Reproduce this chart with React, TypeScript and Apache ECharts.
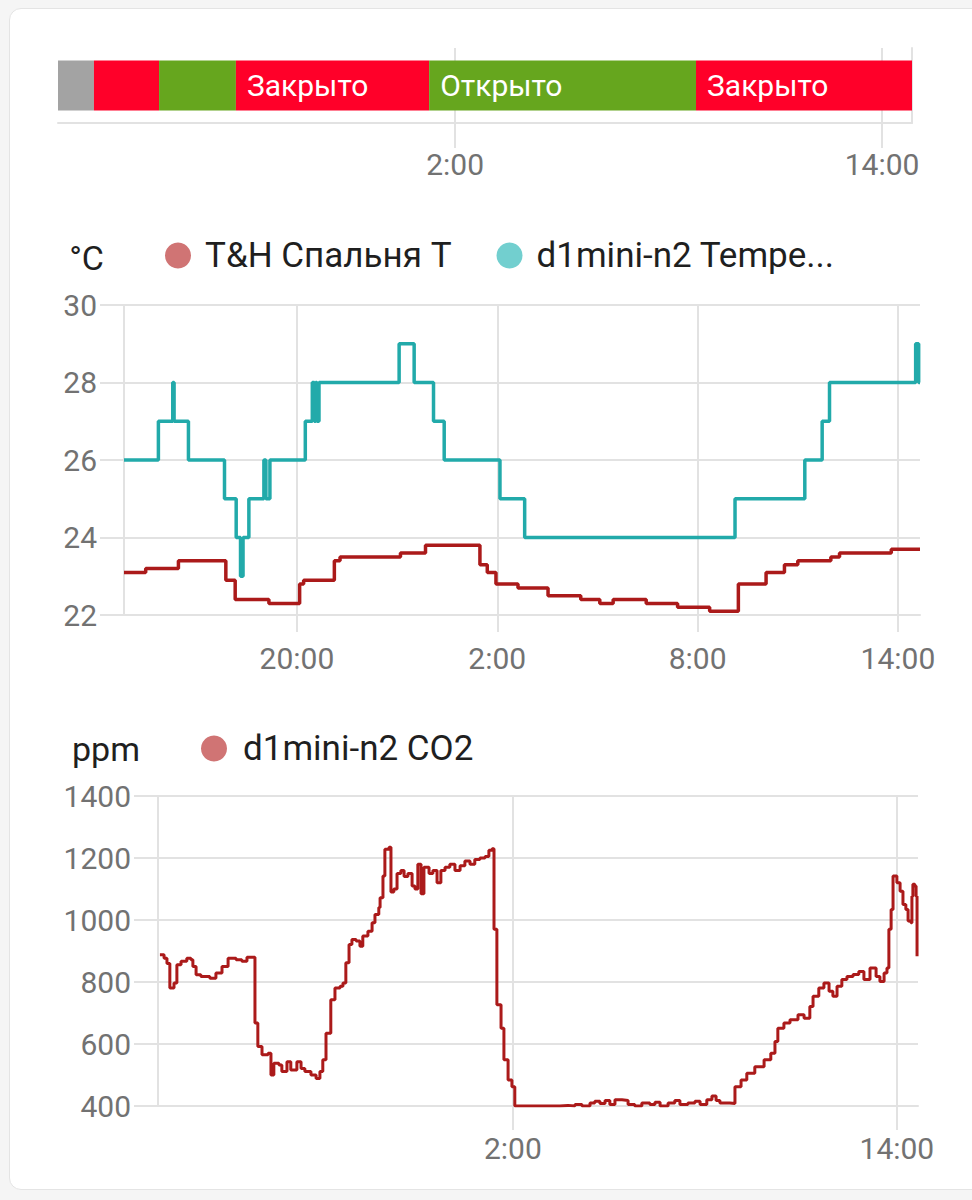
import React, { useEffect, useRef } from "react";
import * as echarts from "echarts";

// ---- Door sensor timeline (hours since midnight of day 1; >24 = next day) ----
const doorStateNames = ["Недоступно", "Закрыто", "Открыто", "Закрыто", "Открыто", "Закрыто"];
const doorStateStarts = [14.84, 15.85, 17.68, 19.84, 25.27, 32.77];
const doorTimelineEnd = 38.84;

// ---- Temperature: T&H Спальня T ----
const bedroomTimes = [
  14.82, 15.47, 16.45, 17.87, 18.15, 19.16, 20.08, 20.2, 21.12, 21.29, 23.1, 23.85,
  25.48, 25.7, 25.96, 26.62, 27.52, 28.5, 29.07, 29.47, 30.46, 31.4, 32.36, 33.22,
  34.05, 34.6, 35.0, 35.99, 36.25, 37.8, 38.66,
];
const bedroomTemps = [
  23.1, 23.2, 23.4, 22.9, 22.4, 22.3, 22.8, 22.9, 23.4, 23.5, 23.6, 23.8,
  23.3, 23.1, 22.8, 22.7, 22.5, 22.4, 22.3, 22.4, 22.3, 22.2, 22.1, 22.8,
  23.1, 23.3, 23.4, 23.5, 23.6, 23.7, 23.7,
];

// ---- Temperature: d1mini-n2 Temperature ----
const d1Times = [
  14.82, 15.85, 16.28, 16.32, 16.75, 17.83, 18.18, 18.31, 18.385, 18.56, 19.01, 19.07,
  19.19, 20.25, 20.46, 20.52, 20.56, 20.6, 20.66, 23.06, 23.51, 24.09, 24.41, 26.08,
  26.82, 33.12, 35.21, 35.73, 35.95, 38.53, 38.62, 38.66,
];
const d1Temps = [
  26, 27, 28, 27, 26, 25, 24, 23, 24, 25, 26, 25,
  26, 27, 28, 27, 28, 27, 28, 29, 28, 27, 26, 25,
  24, 25, 26, 27, 28, 29, 28, 28,
];

// ---- CO2: d1mini-n2 CO2 ----
const co2Times = [
  14.97, 15.1, 15.19, 15.28, 15.41, 15.5, 15.63, 15.81, 15.94, 16.0, 16.1, 16.25,
  16.53, 16.72, 16.91, 17.1, 17.35, 17.53, 17.69, 17.91, 17.94, 18.03, 18.16, 18.35,
  18.44, 18.53, 18.69, 18.78, 18.94, 19.06, 19.25, 19.38, 19.5, 19.69, 19.85, 19.97,
  20.06, 20.16, 20.28, 20.31, 20.44, 20.6, 20.69, 20.78, 20.88, 20.97, 21.1, 21.22,
  21.31, 21.47, 21.6, 21.69, 21.81, 21.85, 21.94, 22.0, 22.13, 22.19, 22.28, 22.38,
  22.5, 22.6, 22.72, 22.85, 22.94, 23.03, 23.13, 23.22, 23.38, 23.5, 23.63, 23.75,
  23.88, 24.03, 24.19, 24.35, 24.5, 24.66, 24.81, 24.97, 25.13, 25.25, 25.35, 25.41,
  25.5, 25.63, 25.72, 25.85, 25.97, 26.06, 27.47, 27.72, 27.94, 28.16, 28.41, 28.56,
  28.72, 28.88, 29.03, 29.19, 29.41, 29.6, 29.81, 30.03, 30.28, 30.44, 30.6, 30.85,
  31.06, 31.22, 31.47, 31.69, 31.85, 32.06, 32.22, 32.35, 32.47, 32.78, 32.94, 33.13,
  33.31, 33.56, 33.85, 34.06, 34.19, 34.28, 34.47, 34.66, 34.91, 35.1, 35.28, 35.38,
  35.56, 35.72, 35.88, 36.0, 36.13, 36.28, 36.44, 36.63, 36.81, 36.97, 37.16, 37.35,
  37.47, 37.6, 37.69, 37.75, 37.82, 37.88, 38.0, 38.1, 38.19, 38.28, 38.35, 38.44,
  38.47, 38.5, 38.56, 38.6, 38.63,
];
const co2Values = [
  888, 877, 860, 781, 797, 856, 867, 877, 872, 850, 823, 818,
  812, 829, 850, 877, 872, 867, 880, 880, 668, 592, 565, 570,
  500, 538, 532, 511, 543, 516, 543, 521, 511, 500, 489, 511,
  549, 635, 635, 743, 781, 786, 797, 862, 921, 937, 932, 915,
  948, 964, 991, 1018, 1040, 1072, 1142, 1228, 1235, 1090, 1100, 1150,
  1160, 1140, 1150, 1110, 1100, 1180, 1085, 1170, 1150, 1160, 1120, 1160,
  1170, 1180, 1160, 1175, 1190, 1180, 1195, 1200, 1205, 1225, 1230, 970,
  727, 651, 549, 484, 462, 400, 402, 400, 405, 400, 410, 415,
  408, 418, 405, 420, 418, 405, 400, 410, 405, 412, 400, 410,
  418, 405, 410, 415, 405, 420, 432, 418, 410, 408, 462, 484,
  506, 527, 549, 570, 608, 651, 668, 678, 694, 683, 721, 754,
  781, 797, 770, 754, 786, 808, 818, 824, 834, 808, 845, 818,
  802, 829, 845, 970, 1034, 1142, 1120, 1093, 1050, 1034, 997, 991,
  1077, 1115, 1110, 1077, 883,
];

// Axis tick positions (hours) for each panel
const timelineTicks = [26, 38];
const tempTicks = [20, 26, 32, 38];
const co2Ticks = [26, 38];

const GRID_COLOR = "#e2e2e2";
const LABEL_COLOR = "#727272";
const TEXT_COLOR = "#1f1f1f";
const FONT = "Roboto";

const stateColors: Record<string, string> = {
  "Недоступно": "#a3a3a3",
  "Закрыто": "#ff0029",
  "Открыто": "#66a61e",
};

const BEDROOM_LINE = "#ab1a1a";
const BEDROOM_ICON = "#d07474";
const D1_LINE = "#22aaaa";
const D1_ICON = "#72cfcf";

const hourLabel = (v: number) => `${Math.round(v) % 24}:00`;

function timeAxis(gridIndex: number, min: number, max: number, ticks: number[], tickLen: number, margin: number) {
  return {
    type: "value",
    gridIndex,
    min,
    max,
    axisLine: { show: true, lineStyle: { color: GRID_COLOR, width: 2 } },
    axisTick: { show: true, customValues: ticks, length: tickLen, lineStyle: { color: GRID_COLOR, width: 2 } },
    axisLabel: {
      customValues: ticks,
      formatter: hourLabel,
      color: LABEL_COLOR,
      fontSize: 30,
      fontFamily: FONT,
      margin,
    },
    splitLine: { show: true, lineStyle: { color: GRID_COLOR, width: 2 } },
  };
}

function valueAxis(gridIndex: number, min: number, max: number, interval: number, name: string, nameRight: number, tickLen: number, margin: number) {
  return {
    type: "value",
    gridIndex,
    min,
    max,
    interval,
    name,
    nameLocation: "end",
    nameGap: 30,
    nameTextStyle: { color: TEXT_COLOR, fontSize: 34, fontFamily: FONT, align: "right", padding: [0, nameRight, 0, 0] },
    axisLine: { show: true, lineStyle: { color: GRID_COLOR, width: 2 } },
    axisTick: { show: true, length: tickLen, lineStyle: { color: GRID_COLOR, width: 2 } },
    axisLabel: { color: LABEL_COLOR, fontSize: 30, fontFamily: FONT, margin, formatter: (v: number) => String(v) },
    splitLine: { show: true, lineStyle: { color: GRID_COLOR, width: 2 } },
  };
}

const LEGEND_SIZE = 35;
const legendFont = `${LEGEND_SIZE}px ${FONT}`;

function buildOption() {
  const doorData = doorStateStarts.map((s, i) => [s, i + 1 < doorStateStarts.length ? doorStateStarts[i + 1] : doorTimelineEnd, i]);
  const pairs = (xs: number[], ys: number[]) => xs.map((x, i) => [x, ys[i]]);

  return {
    animation: false,
    textStyle: { fontFamily: FONT },
    grid: [
      { left: 58, right: 60, top: 48, height: 75 },
      { left: 124, right: 52, top: 305, height: 310 },
      { left: 158, right: 54, top: 796, height: 310 },
    ],
    legend: [
      {
        left: 160,
        top: 233,
        icon: "circle",
        itemWidth: 26,
        itemHeight: 26,
        itemGap: 45,
        textStyle: { color: TEXT_COLOR, fontSize: LEGEND_SIZE, fontFamily: FONT, padding: [0, 0, 0, 9] },
        formatter: (name: string) => echarts.format.truncateText(name, 300, legendFont, "..."),
        data: [
          { name: "T&H Спальня T", itemStyle: { color: BEDROOM_ICON } },
          { name: "d1mini-n2 Temperature", itemStyle: { color: D1_ICON } },
        ],
      },
      {
        left: 196,
        top: 726,
        icon: "circle",
        itemWidth: 26,
        itemHeight: 26,
        textStyle: { color: TEXT_COLOR, fontSize: LEGEND_SIZE, fontFamily: FONT, padding: [0, 0, 0, 11] },
        data: [{ name: "d1mini-n2 CO2", itemStyle: { color: BEDROOM_ICON } }],
      },
    ],
    xAxis: [
      timeAxis(0, 14.84, 38.84, timelineTicks, 25, 26),
      timeAxis(1, 14.82, 38.66, tempTicks, 17, 28),
      timeAxis(2, 14.91, 38.66, co2Ticks, 24, 27),
    ],
    yAxis: [
      {
        type: "category",
        gridIndex: 0,
        data: [""],
        position: "right",
        axisLine: { show: true, lineStyle: { color: GRID_COLOR, width: 2 } },
        axisTick: { show: false },
        axisLabel: { show: false },
        splitLine: { show: false },
      },
      valueAxis(1, 22, 30, 2, "°C", 20, 24, 27),
      valueAxis(2, 400, 1400, 200, "ppm", 18, 24, 27),
    ],
    series: [
      {
        type: "custom",
        name: "door",
        xAxisIndex: 0,
        yAxisIndex: 0,
        clip: true,
        encode: { x: [0, 1] },
        data: doorData,
        renderItem: (_params: any, api: any) => {
          const start = api.value(0);
          const end = api.value(1);
          const idx = api.value(2);
          const state = doorStateNames[idx];
          const p0 = api.coord([start, 0]);
          const p1 = api.coord([end, 0]);
          const h = 50;
          const w = p1[0] - p0[0];
          const children: any[] = [
            { type: "rect", shape: { x: p0[0], y: p0[1] - h / 2, width: w, height: h }, style: { fill: stateColors[state] } },
          ];
          if (w > 150) {
            children.push({
              type: "text",
              x: p0[0] + 11,
              y: p0[1],
              style: { text: state, fill: "#ffffff", fontSize: 30, fontFamily: FONT, verticalAlign: "middle", align: "left" },
            });
          }
          return { type: "group", children };
        },
      },
      {
        type: "line",
        name: "T&H Спальня T",
        xAxisIndex: 1,
        yAxisIndex: 1,
        step: "end",
        showSymbol: false,
        data: pairs(bedroomTimes, bedroomTemps),
        itemStyle: { color: BEDROOM_ICON },
        lineStyle: { color: BEDROOM_LINE, width: 3.5 },
      },
      {
        type: "line",
        name: "d1mini-n2 Temperature",
        xAxisIndex: 1,
        yAxisIndex: 1,
        step: "end",
        showSymbol: false,
        data: pairs(d1Times, d1Temps),
        itemStyle: { color: D1_ICON },
        lineStyle: { color: D1_LINE, width: 3.5 },
      },
      {
        type: "line",
        name: "d1mini-n2 CO2",
        xAxisIndex: 2,
        yAxisIndex: 2,
        step: "end",
        showSymbol: false,
        data: pairs(co2Times, co2Values),
        itemStyle: { color: BEDROOM_ICON },
        lineStyle: { color: BEDROOM_LINE, width: 3 },
      },
    ],
  };
}

export default function App() {
  const ref = useRef<HTMLDivElement>(null);
  useEffect(() => {
    if (!ref.current) return;
    const chart = echarts.init(ref.current, null, { renderer: "svg" });
    chart.setOption(buildOption() as any);
    return () => chart.dispose();
  }, []);
  return (
    <div style={{ position: "fixed", left: 0, top: 0, width: 972, height: 1200, background: "#f5f5f5", overflow: "hidden" }}>
      <div
        style={{
          position: "absolute",
          left: 9,
          top: 8,
          width: 1000,
          height: 1180,
          background: "#ffffff",
          border: "1px solid #e4e4e4",
          borderRadius: 12,
        }}
      />
      <div ref={ref} style={{ position: "absolute", left: 0, top: 0, width: 972, height: 1200 }} />
    </div>
  );
}
